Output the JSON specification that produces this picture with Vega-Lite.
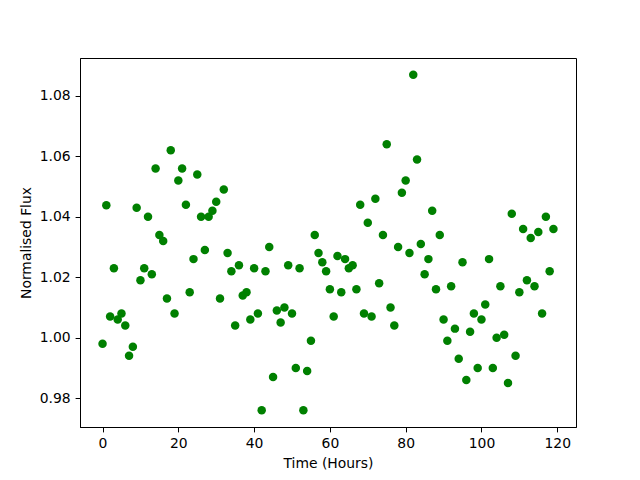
{
  "$schema": "https://vega.github.io/schema/vega-lite/v6.json",
  "width": 496,
  "height": 369,
  "autosize": "none",
  "padding": {"left": 80, "top": 58, "right": 64, "bottom": 53},
  "background": "white",
  "config": {
    "view": {"stroke": "black", "strokeWidth": 1},
    "axis": {
      "grid": false,
      "domainColor": "black",
      "tickColor": "black",
      "labelColor": "black",
      "titleColor": "black",
      "labelFont": "DejaVu Sans",
      "titleFont": "DejaVu Sans",
      "labelFontSize": 13.9,
      "titleFontSize": 13.9,
      "titleFontWeight": "normal",
      "tickSize": 4.9,
      "labelPadding": 4.9,
      "titlePadding": 5.5
    }
  },
  "data": {
    "values": [
      {"t":0,"f":0.998},{"t":1,"f":1.0438},{"t":2,"f":1.007},{"t":3,"f":1.023},{"t":4,"f":1.006},
      {"t":5,"f":1.008},{"t":6,"f":1.004},{"t":7,"f":0.994},{"t":8,"f":0.997},{"t":9,"f":1.043},
      {"t":10,"f":1.019},{"t":11,"f":1.023},{"t":12,"f":1.040},{"t":13,"f":1.021},{"t":14,"f":1.056},
      {"t":15,"f":1.034},{"t":16,"f":1.032},{"t":17,"f":1.013},{"t":18,"f":1.062},{"t":19,"f":1.008},
      {"t":20,"f":1.052},{"t":21,"f":1.056},{"t":22,"f":1.044},{"t":23,"f":1.015},{"t":24,"f":1.026},
      {"t":25,"f":1.054},{"t":26,"f":1.040},{"t":27,"f":1.029},{"t":28,"f":1.040},{"t":29,"f":1.042},
      {"t":30,"f":1.045},{"t":31,"f":1.013},{"t":32,"f":1.049},{"t":33,"f":1.028},{"t":34,"f":1.022},
      {"t":35,"f":1.004},{"t":36,"f":1.024},{"t":37,"f":1.014},{"t":38,"f":1.015},{"t":39,"f":1.006},
      {"t":40,"f":1.023},{"t":41,"f":1.008},{"t":42,"f":0.976},{"t":43,"f":1.022},{"t":44,"f":1.030},
      {"t":45,"f":0.987},{"t":46,"f":1.009},{"t":47,"f":1.005},{"t":48,"f":1.010},{"t":49,"f":1.024},
      {"t":50,"f":1.008},{"t":51,"f":0.990},{"t":52,"f":1.023},{"t":53,"f":0.976},{"t":54,"f":0.989},
      {"t":55,"f":0.999},{"t":56,"f":1.034},{"t":57,"f":1.028},{"t":58,"f":1.025},{"t":59,"f":1.022},
      {"t":60,"f":1.016},{"t":61,"f":1.007},{"t":62,"f":1.027},{"t":63,"f":1.015},{"t":64,"f":1.026},
      {"t":65,"f":1.023},{"t":66,"f":1.024},{"t":67,"f":1.016},{"t":68,"f":1.044},{"t":69,"f":1.008},
      {"t":70,"f":1.038},{"t":71,"f":1.007},{"t":72,"f":1.046},{"t":73,"f":1.018},{"t":74,"f":1.034},
      {"t":75,"f":1.064},{"t":76,"f":1.010},{"t":77,"f":1.004},{"t":78,"f":1.030},{"t":79,"f":1.048},
      {"t":80,"f":1.052},{"t":81,"f":1.028},{"t":82,"f":1.087},{"t":83,"f":1.059},{"t":84,"f":1.031},
      {"t":85,"f":1.021},{"t":86,"f":1.026},{"t":87,"f":1.042},{"t":88,"f":1.016},{"t":89,"f":1.034},
      {"t":90,"f":1.006},{"t":91,"f":0.999},{"t":92,"f":1.017},{"t":93,"f":1.003},{"t":94,"f":0.993},
      {"t":95,"f":1.025},{"t":96,"f":0.986},{"t":97,"f":1.002},{"t":98,"f":1.008},{"t":99,"f":0.990},
      {"t":100,"f":1.006},{"t":101,"f":1.011},{"t":102,"f":1.026},{"t":103,"f":0.990},{"t":104,"f":1.000},
      {"t":105,"f":1.017},{"t":106,"f":1.001},{"t":107,"f":0.985},{"t":108,"f":1.041},{"t":109,"f":0.994},
      {"t":110,"f":1.015},{"t":111,"f":1.036},{"t":112,"f":1.019},{"t":113,"f":1.033},{"t":114,"f":1.017},
      {"t":115,"f":1.035},{"t":116,"f":1.008},{"t":117,"f":1.040},{"t":118,"f":1.022},{"t":119,"f":1.036}
    ]
  },
  "mark": {"type": "point", "filled": true, "shape": "circle", "color": "#008000", "opacity": 1, "size": 72},
  "encoding": {
    "x": {
      "field": "t", "type": "quantitative", "title": "Time (Hours)",
      "scale": {"domain": [-5.95, 124.95], "nice": false, "zero": false},
      "axis": {"values": [0, 20, 40, 60, 80, 100, 120], "format": "d"}
    },
    "y": {
      "field": "f", "type": "quantitative", "title": "Normalised Flux",
      "scale": {"domain": [0.97045, 1.09255], "nice": false, "zero": false},
      "axis": {"values": [0.98, 1.0, 1.02, 1.04, 1.06, 1.08], "format": ".2f"}
    }
  }
}
